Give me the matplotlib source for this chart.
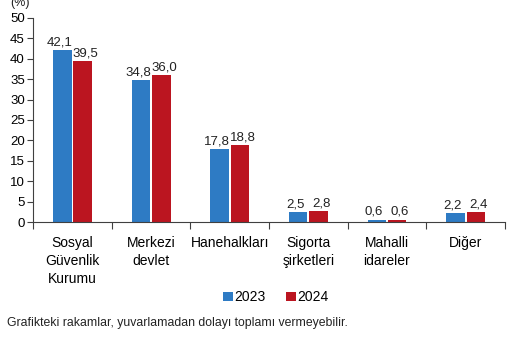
import matplotlib.pyplot as plt
import numpy as np

plt.rcParams['font.family'] = ['Liberation Sans', 'DejaVu Sans']

categories = ['Sosyal\nGüvenlik\nKurumu', 'Merkezi\ndevlet', 'Hanehalkları',
              'Sigorta\nşirketleri', 'Mahalli\nidareler', 'Diğer']
v2023 = [42.1, 34.8, 17.8, 2.5, 0.6, 2.2]
v2024 = [39.5, 36.0, 18.8, 2.8, 0.6, 2.4]

blue = '#2E7BC4'
red = '#BB1520'

fig = plt.figure(figsize=(5.11, 3.37), dpi=100)
ax = fig.add_axes([0.065, 0.341, 0.923, 0.606])

x = np.arange(len(categories))
w = 0.235
b1 = ax.bar(x - w / 2 - 0.012, v2023, w, color=blue, label='2023')
b2 = ax.bar(x + w / 2 + 0.012, v2024, w, color=red, label='2024')

for bars, vals, shift in ((b1, v2023, -0.035), (b2, v2024, 0.035)):
    for r, v in zip(bars, vals):
        ax.text(r.get_x() + r.get_width() / 2 + shift, v + 0.4,
                f'{v:.1f}'.replace('.', ','),
                ha='center', va='bottom', fontsize=9.5, color='#222222')

ax.set_xlim(-0.5, len(categories) - 0.5)
ax.set_ylim(0, 50)
ax.set_yticks(range(0, 51, 5))
ax.set_xticks(np.arange(-0.5, len(categories), 1))
ax.set_xticklabels([])
ax.set_xticks(x, minor=True)
ax.set_xticklabels(categories, minor=True, fontsize=10, linespacing=1.35)
ax.tick_params(axis='x', which='minor', length=0, pad=10)
ax.tick_params(axis='x', which='major', length=5, color='#404040')
ax.tick_params(axis='y', length=4, labelsize=9.5, color='#404040', pad=2)

ax.spines['top'].set_visible(False)
ax.spines['right'].set_visible(False)
ax.spines['left'].set_color('#404040')
ax.spines['bottom'].set_color('#404040')

fig.text(0.02, 0.99, '(%)', fontsize=9, va='center', color='#222222')

fig.legend(handles=[b1, b2], loc='center', bbox_to_anchor=(0.54, 0.118), ncol=2,
           frameon=False, fontsize=10, handlelength=0.7, handleheight=0.7,
           handletextpad=0.1, columnspacing=1.5)

fig.text(0.014, 0.033, 'Grafikteki rakamlar, yuvarlamadan dolayı toplamı vermeyebilir.',
         fontsize=8.8, color='#222222')

fig.savefig('out.png', dpi=100)
